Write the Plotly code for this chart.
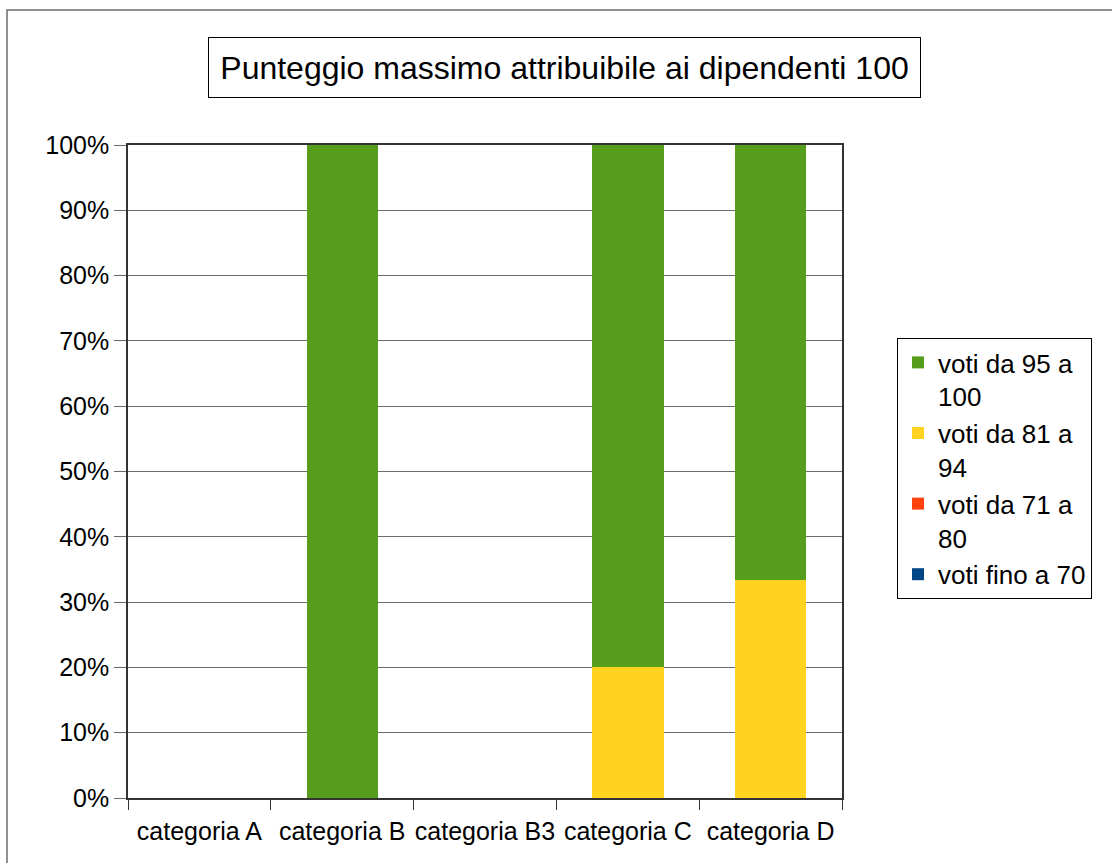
import plotly.graph_objects as go

categories = ["categoria A", "categoria B", "categoria B3", "categoria C", "categoria D"]
series_names = ["voti fino a 70", "voti da 71 a<br>80", "voti da 81 a<br>94", "voti da 95 a<br>100"]
voti_fino_70 = [0, 0, 0, 0, 0]
voti_71_80 = [0, 0, 0, 0, 0]
voti_81_94 = [0, 0, 0, 20, 33.33]
voti_95_100 = [0, 100, 0, 80, 66.67]
colors = ["#004586", "#ff420e", "#ffd320", "#579d1c"]
y_ticks = [0, 10, 20, 30, 40, 50, 60, 70, 80, 90, 100]

W, H = 1112, 863
L, R, T, B = 128, 842, 145, 798
pw, ph = R - L, B - T

def px(x):
    return (x - L) / pw

def py(y):
    return (B - y) / ph

fig = go.Figure()
for name, vals, col in zip(series_names, [voti_fino_70, voti_71_80, voti_81_94, voti_95_100], colors):
    fig.add_trace(go.Bar(x=categories, y=vals, name=name, marker=dict(color=col, line=dict(width=0))))

fig.update_layout(
    width=W, height=H,
    barmode="stack", bargap=0.5,
    paper_bgcolor="white", plot_bgcolor="white",
    margin=dict(l=L, r=W - R, t=T, b=H - B, autoexpand=False),
    font=dict(family="Liberation Sans, Arial, sans-serif", size=25, color="#000000"),
    showlegend=True,
    legend=dict(
        traceorder="reversed", x=px(897), y=py(338), xanchor="left", yanchor="top",
        bordercolor="#000000", borderwidth=1, bgcolor="white",
        font=dict(size=26), valign="top", tracegroupgap=0, itemwidth=30,
    ),
    xaxis=dict(
        showline=True, linecolor="#333333", linewidth=1.5, mirror=True,
        ticks="outside", tickson="boundaries", ticklen=10, tickcolor="#333333",
        showgrid=False, tickfont=dict(size=25), tickangle=0, automargin=False,
        ticklabelstandoff=10,
    ),
    yaxis=dict(
        range=[0, 100], tickvals=y_ticks, ticktext=[f"{v}%" for v in y_ticks],
        showline=True, linecolor="#333333", linewidth=1.5, mirror=True,
        ticks="outside", ticklen=12, tickcolor="#666666",
        showgrid=True, gridcolor="#6a6a6a", gridwidth=1.3,
        zeroline=False, tickfont=dict(size=25), automargin=False,
    ),
)

fig.add_shape(type="rect", xref="paper", yref="paper",
              x0=px(7), y0=py(10), x1=px(1118), y1=py(870),
              line=dict(color="#6e6e6e", width=1.5), layer="below")

fig.add_annotation(
    text="Punteggio massimo attribuibile ai dipendenti 100",
    xref="paper", yref="paper", x=px(564.5), y=py(67.5), xanchor="center", yanchor="middle",
    showarrow=False, font=dict(size=32, color="#000000"),
    width=703, height=51, borderpad=4,
    bordercolor="#000000", borderwidth=1, bgcolor="white",
)

fig.write_html("out.html", config={"displayModeBar": False},
               post_script="document.body.style.margin='0';document.body.style.overflow='hidden';")
